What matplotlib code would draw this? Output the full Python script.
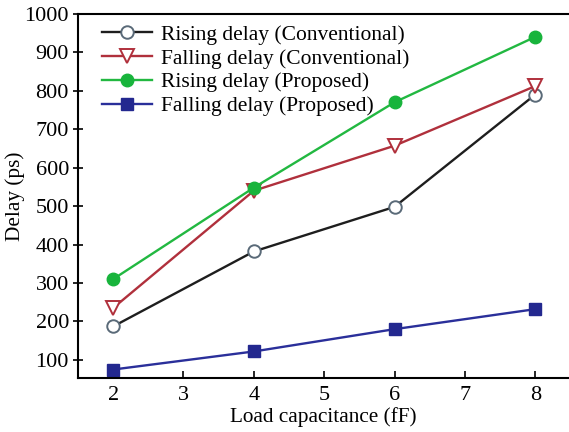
import matplotlib
matplotlib.use("Agg")
import matplotlib.pyplot as plt

plt.rcParams['font.family'] = ['Liberation Serif', 'DejaVu Serif']
plt.rcParams['mathtext.fontset'] = 'stix'

load_cap = [2, 4, 6, 8]
rising_conv = [187, 382, 498, 790]
falling_conv = [235, 540, 657, 812]
rising_prop = [310, 548, 770, 940]
falling_prop = [75, 122, 180, 232]
labels = ["Rising delay (Conventional)", "Falling delay (Conventional)",
          "Rising delay (Proposed)", "Falling delay (Proposed)"]
xticks = [2, 3, 4, 5, 6, 7, 8]
yticks = [100, 200, 300, 400, 500, 600, 700, 800, 900, 1000]

fig = plt.figure(figsize=(5.69, 4.32), dpi=100)
ax = fig.add_axes([0.137, 0.125, 0.863, 0.843])

ax.plot(load_cap, rising_conv, color='#1e1e1e', lw=1.7, marker='o', ms=9,
        mfc='white', mec='#5a6a78', mew=1.4, label=labels[0])
ax.plot(load_cap, falling_conv, color='#b0303c', lw=1.7, marker='v', ms=10,
        mfc='white', mec='#b0303c', mew=1.4, label=labels[1])
ax.plot(load_cap, rising_prop, color='#22b841', lw=1.7, marker='o', ms=9,
        mfc='#18b43c', mec='#18b43c', label=labels[2])
ax.plot(load_cap, falling_prop, color='#2a2f9a', lw=1.7, marker='s', ms=8.5,
        mfc='#23288f', mec='#23288f', label=labels[3])

ax.set_xlim(1.5, 8.48)
ax.set_ylim(53, 1000)
ax.set_xticks(xticks)
ax.set_yticks(yticks)
ax.tick_params(axis='x', direction='in', length=5, width=1.2, labelsize=16, pad=6)
ax.tick_params(axis='y', direction='inout', length=7, width=1.2, labelsize=16, pad=3)
for s in ['left', 'bottom', 'top']:
    ax.spines[s].set_linewidth(1.5)
ax.spines['right'].set_visible(False)

ax.set_xlabel('Load capacitance (fF)', fontsize=15.3, labelpad=1)
ax.set_ylabel('Delay (ps)', fontsize=15.3)
ax.yaxis.set_label_coords(-0.108, 0.5)

leg = ax.legend(loc='upper left', bbox_to_anchor=(0.022, 1.005), frameon=False,
                fontsize=15.5, handlelength=2.35, handletextpad=0.4,
                labelspacing=0.17, borderaxespad=0.2)

fig.savefig('out.png', dpi=100)
